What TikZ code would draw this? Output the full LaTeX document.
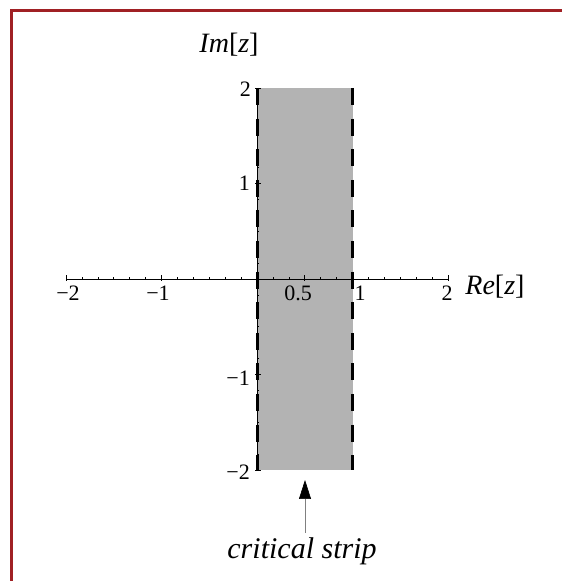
\documentclass[tikz,border=0pt]{standalone}
\usepackage{fontspec}
\setmainfont{Liberation Serif}
\usetikzlibrary{arrows.meta}
\definecolor{framered}{RGB}{160,32,36}
\definecolor{stripgray}{RGB}{179,179,179}
\tikzset{
  axisline/.style={black, line width=0.6pt},
  tickmark/.style={black, line width=0.6pt},
  stripdash/.style={black, line width=3pt, line cap=butt},
  ticklabel/.style={font=\fontsize{22}{22}\selectfont, inner sep=0pt},
  axislabel/.style={font=\fontsize{28}{28}\selectfont, inner sep=0pt},
}
\begin{document}
\begin{tikzpicture}[x=1pt,y=1pt]
\useasboundingbox (0,0) rectangle (562,581);
\fill[white] (0,0) rectangle (562,581);
\draw[framered, line width=3pt] (11,-2) -- (11,570) -- (564,570);
\fill[stripgray] (257,111) rectangle (352.5,493);
\begin{scope}[shift={(257,302)}, x=95.5pt, y=95.5pt]
  \draw[axisline] (-2,0) -- (2,0);
  \draw[axisline] (0,-2) -- (0,2);
  \foreach \i in {-12,...,12} {
    \draw[tickmark] (\i/6,0) -- ++(0,2pt);
    \draw[tickmark] (0,\i/6) -- ++(2pt,0);
  }
  \foreach \i in {-2,-1,0.5,1,2} {
    \draw[tickmark] (\i,-2pt) -- ++(0,6pt);
  }
  \foreach \i in {-2,-1,1,2} {
    \draw[tickmark] (0,\i) ++(-2pt,0) -- ++(6pt,0);
  }
\end{scope}
% dashed strip edges, drawn as explicit dashes
\foreach \k in {0,...,12} {
  \pgfmathsetmacro{\ya}{493-30.6*\k}
  \pgfmathsetmacro{\yb}{max(111,\ya-17)}
  \draw[stripdash] (257,\ya) -- (257,\yb);
  \draw[stripdash] (352.5,\ya) -- (352.5,\yb);
}
% labels
\node[axislabel] (im) at (229,536) {\textit{Im}[\textit{z}]};
\node[axislabel] (re) at (495,294) {\textit{Re}[\textit{z}]};
\node[ticklabel, anchor=east] (y2) at (251,492) {2};
\node[ticklabel, anchor=east] (y1) at (250,398) {1};
\node[ticklabel, anchor=east] (ym1) at (250,203) {−1};
\node[ticklabel, anchor=east] (ym2) at (250,109) {−2};
\node[ticklabel] (xm2) at (68,288) {−2};
\node[ticklabel] (xm1) at (158,288) {−1};
\node[ticklabel] (xh) at (298,288) {0.5};
\node[ticklabel] (x1) at (360,288) {1};
\node[ticklabel] (x2) at (447,288) {2};
\node[axislabel, font=\fontsize{30}{30}\selectfont] (cs) at (302,30) {\textit{critical strip}};
\coordinate (tail) at (305,48);
\coordinate (tip) at (305,101);
\draw[gray, line width=0.6pt, -{Triangle[length=19pt, width=12pt, black]}] (tail) -- (tip);
\end{tikzpicture}
\end{document}
